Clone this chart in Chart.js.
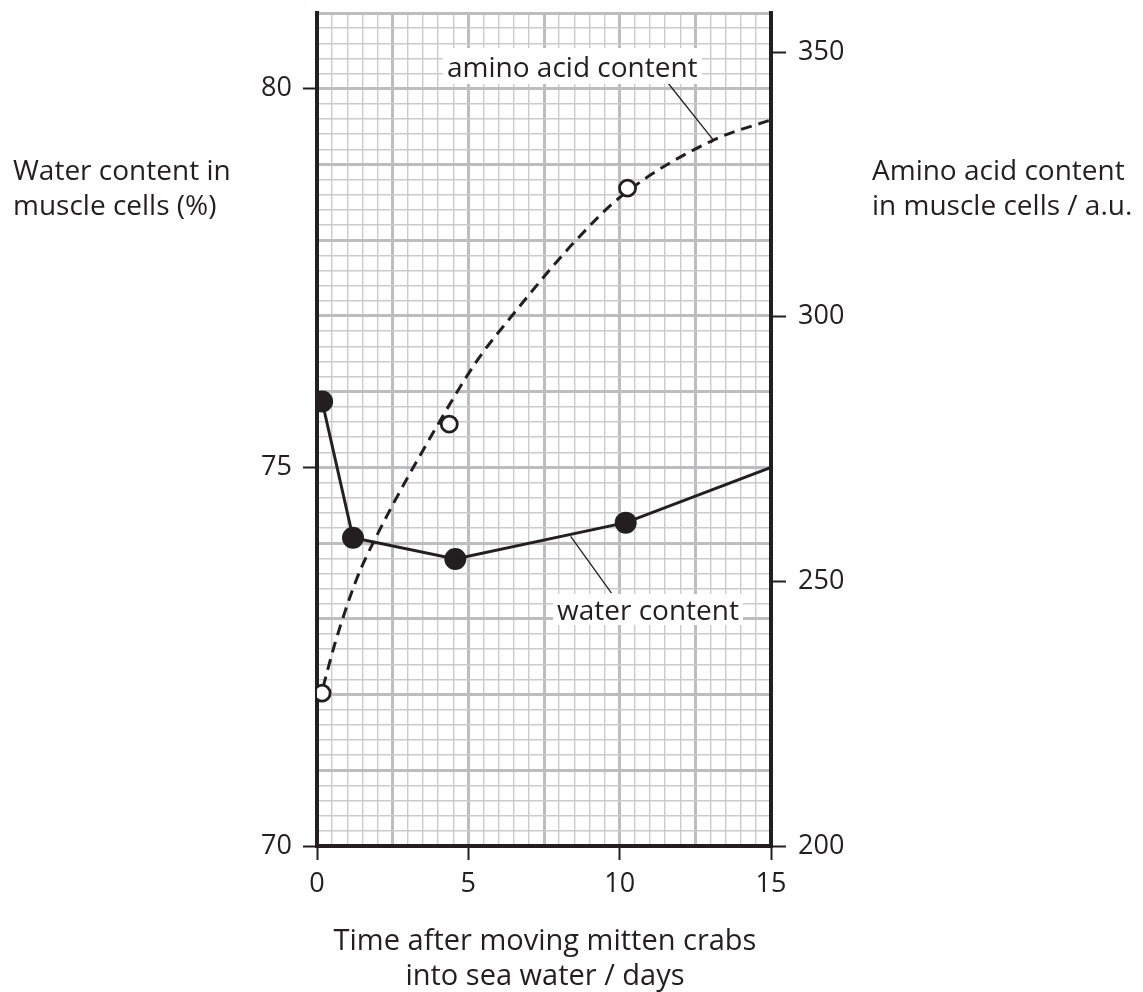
<!DOCTYPE html>
<html>
<head>
<meta charset="utf-8">
<script src="https://cdn.jsdelivr.net/npm/chart.js@4.4.1/dist/chart.umd.min.js"></script>
<style>
  body { margin: 0; background: #fff; }
  #wrap { position: relative; width: 1143px; height: 992px; font-family: "Open Sans", sans-serif; color: #231f20; }
  #wrap canvas { position: absolute; left: 0; top: 0; }
  .txt { position: absolute; font-size: 28px; line-height: 35px; white-space: nowrap; }
  .lbl { position: absolute; font-size: 28px; line-height: 36px; white-space: nowrap; background: #fff; padding: 0 4px; }
</style>
</head>
<body>
<div id="wrap">
  <canvas id="myChart" width="1143" height="992"></canvas>
  <div class="txt" style="left:13px; top:152px;">Water content in<br>muscle cells (%)</div>
  <div class="txt" style="left:872px; top:152px;">Amino acid content<br>in muscle cells / a.u.</div>
  <div class="txt" style="left:300px; width:490px; text-align:center; top:921px; font-size:29px;">Time after moving mitten crabs<br>into sea water / days</div>
  <div class="lbl" style="left:443px; top:48px;">amino acid content</div>
  <div class="lbl" style="left:553px; top:594px; line-height:31px;">water content</div>
</div>
<script>
// measured water content (left axis, %)
let waterDays = [0.17, 1.19, 4.57, 10.2, 15]
let waterValues = [75.87, 74.07, 73.79, 74.27, 75.0]

// measured amino acid content (right axis, a.u.)
let aminoDays = [0.17, 4.37, 10.26]
let aminoValues = [228.9, 279.7, 324.3]

// hand drawn trend curve through the amino acid points
let curveDays = [0.2, 0.6, 1.3, 1.9, 4.0, 5.3, 6.4, 8.5, 10.1, 13.1, 15]
let curveValues = [230.0, 238.4, 250.3, 257.8, 279.7, 291.8, 299.9, 314.1, 323.0, 333.4, 337.2]

let xLabels = [0, 5, 10, 15]
let leftLabels = [70, 75, 80]
let rightLabels = [200, 250, 300, 350]

const INK = "#231f20"

function pairs(xs, ys)
{
    return xs.map((x, i) => ({x: x, y: ys[i]}))
}

function near(v, list)
{
    return list.some(l => Math.abs(v - l) < 1e-6)
}

function isWhole(v, step)
{
    return Math.abs(v / step - Math.round(v / step)) < 1e-6
}

// fixed sizes for each axis box, so the plot area sits where the original one does
function fixBox(size)
{
    return function(scale)
    {
        if (scale.isHorizontal()) scale.height = size
        else scale.width = size
        scale.paddingTop = 0
        scale.paddingBottom = 0
        scale.paddingLeft = 0
        scale.paddingRight = 0
    }
}

// leader lines from the line labels to the curves
const leaders = {
    id: "leaders",
    afterDatasetsDraw(chart)
    {
        const c = chart.ctx, x = chart.scales.x, yl = chart.scales.y, yr = chart.scales.y2
        c.save()
        c.strokeStyle = INK
        c.lineWidth = 1.3
        // water content
        c.beginPath()
        c.moveTo(x.getPixelForValue(8.38), yl.getPixelForValue(74.09))
        c.lineTo(x.getPixelForValue(9.73), yl.getPixelForValue(73.34))
        c.stroke()
        // amino acid content
        let x1 = x.getPixelForValue(11.55), y1 = yr.getPixelForValue(344.5)
        let x2 = x.getPixelForValue(13.11), y2 = yr.getPixelForValue(333.3)
        c.beginPath()
        c.moveTo(x1, y1)
        c.lineTo(x2, y2)
        let len = Math.hypot(x2 - x1, y2 - y1)
        let px = (y1 - y2) / len * 4, py = (x2 - x1) / len * 4
        c.moveTo(x2 - px, y2 - py)
        c.lineTo(x2 + px, y2 + py)
        c.stroke()
        c.restore()
    }
}

Chart.defaults.font.family = '"Open Sans", sans-serif'
Chart.defaults.font.size = 27
Chart.defaults.color = INK

var ctx = document.getElementById("myChart").getContext("2d")
var myChart = new Chart(ctx, {
    type: "line",
    data: {
        datasets: [
            {
                label: "amino acid content (measured)",
                data: pairs(aminoDays, aminoValues),
                yAxisID: "y2",
                showLine: false,
                pointRadius: 8,
                pointBackgroundColor: "#fff",
                pointBorderColor: INK,
                pointBorderWidth: 2.8
            },
            {
                label: "water content",
                data: pairs(waterDays, waterValues),
                yAxisID: "y",
                borderColor: INK,
                borderWidth: 3,
                pointRadius: waterDays.map((d, i) => i < waterDays.length - 1 ? 9.5 : 0),
                pointBackgroundColor: INK,
                pointBorderColor: INK,
                tension: 0
            },
            {
                label: "amino acid content",
                data: pairs(curveDays, curveValues),
                yAxisID: "y2",
                borderColor: INK,
                borderWidth: 3,
                borderDash: [11, 7],
                pointRadius: 0,
                cubicInterpolationMode: "monotone"
            }
        ]
    },
    options: {
        responsive: false,
        animation: false,
        devicePixelRatio: 1,
        layout: {padding: {top: 13, left: 0, right: 0, bottom: 0}},
        plugins: {legend: {display: false}, tooltip: {enabled: false}},
        scales: {
            x: {
                type: "linear",
                min: 0, max: 15,
                afterFit: fixBox(146),
                ticks: {
                    stepSize: 0.5, autoSkip: false, maxRotation: 0, padding: 8,
                    callback: v => near(v, xLabels) ? String(v) : ""
                },
                grid: {
                    color: c => isWhole(c.tick.value, 2.5) ? "#bdbdbf" : "#cbcbcd",
                    lineWidth: c => isWhole(c.tick.value, 2.5) ? 3 : 1.4,
                    tickColor: c => near(c.tick.value, xLabels) ? INK : "rgba(0,0,0,0)",
                    tickWidth: 2,
                    tickLength: 14
                },
                border: {display: true, color: INK, width: 4}
            },
            y: {
                type: "linear",
                position: "left",
                min: 70, max: 81,
                afterFit: fixBox(317),
                ticks: {
                    stepSize: 0.2, autoSkip: false, padding: 11,
                    callback: v => near(v, leftLabels) ? String(Math.round(v)) : ""
                },
                grid: {
                    color: c => isWhole(c.tick.value, 1) ? "#bdbdbf" : "#cbcbcd",
                    lineWidth: c => isWhole(c.tick.value, 1) ? 3 : 1.4,
                    tickColor: c => near(c.tick.value, leftLabels) ? INK : "rgba(0,0,0,0)",
                    tickWidth: 2,
                    tickLength: 14
                },
                border: {display: true, color: INK, width: 4}
            },
            y2: {
                type: "linear",
                position: "right",
                min: 200, max: 357.4,
                afterFit: fixBox(372),
                afterBuildTicks: s => { s.ticks = s.ticks.filter(t => near(t.value, rightLabels)) },
                ticks: {stepSize: 50, padding: 12},
                grid: {drawOnChartArea: false, color: INK, tickWidth: 2, tickLength: 15},
                border: {display: true, color: INK, width: 4}
            }
        }
    },
    plugins: [leaders]
});
</script>
</body>
</html>
